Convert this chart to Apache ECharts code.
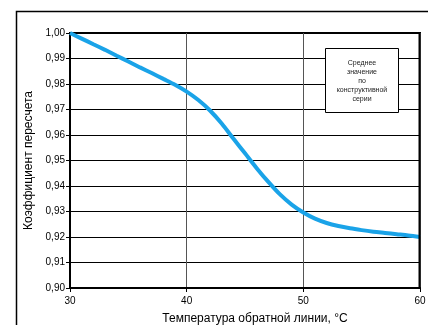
<!DOCTYPE html>
<html>
<head>
<meta charset="utf-8">
<script src="https://cdn.jsdelivr.net/npm/echarts@6/dist/echarts.min.js"></script>
<style>html,body{margin:0;padding:0;background:#fff;}#c{width:428px;height:325px;}</style>
</head>
<body>
<div id="c"></div>
<script>
const temps = [30, 31, 32, 33, 34, 35, 36, 37, 38, 39, 40, 41, 42, 43, 44, 45, 46, 47, 48, 49, 50, 51, 52, 53, 54, 55, 56, 57, 58, 59, 60];
const coef = [1.0000, 0.9978, 0.9956, 0.9934, 0.9911, 0.9888, 0.9865, 0.9843, 0.9820, 0.9797, 0.9770,
  0.9737, 0.9696, 0.9645, 0.9586, 0.9528, 0.9470, 0.9416, 0.9367, 0.9327, 0.9296,
  0.9272, 0.9255, 0.9243, 0.9234, 0.9227, 0.9221, 0.9216, 0.9211, 0.9206, 0.9200];
const xTicks = [30, 40, 50, 60];
const yName = 'Коэффициент пересчета';
const xName = 'Температура обратной линии, °С';
const noteLines = ['Среднее', 'значение', 'по', 'конструктивной', 'серии'];

const chart = echarts.init(document.getElementById('c'), null, {renderer: 'canvas'});
const font = 'Liberation Sans, Arial, sans-serif';
chart.setOption({
  animation: false,
  backgroundColor: '#fff',
  grid: {left: 70, right: 8, top: 33, bottom: 37, show: true, borderColor: '#000', borderWidth: 2,
    backgroundColor: 'transparent', containLabel: false, outerBoundsMode: 'none'},
  xAxis: {
    type: 'value', min: 30, max: 60, interval: 10,
    name: xName, nameLocation: 'middle', nameGap: 25,
    nameTextStyle: {fontFamily: font, fontSize: 12, color: '#000', padding: [0, 0, 0, 20]},
    axisLine: {show: true, lineStyle: {color: '#000', width: 2}},
    axisTick: {show: true, length: 4, lineStyle: {color: '#000'}},
    axisLabel: {fontFamily: font, fontSize: 10, color: '#000', margin: 8,
      formatter: v => xTicks.includes(v) ? String(v) : ''},
    splitLine: {show: true, lineStyle: {color: '#555', width: 1}}
  },
  yAxis: {
    type: 'value', min: 0.90, max: 1.00, interval: 0.01,
    name: yName, nameLocation: 'middle', nameGap: 33,
    nameTextStyle: {fontFamily: font, fontSize: 12, color: '#000'},
    axisLine: {show: true, lineStyle: {color: '#000', width: 2}},
    axisTick: {show: true, length: 4, lineStyle: {color: '#000'}},
    axisLabel: {fontFamily: font, fontSize: 10, color: '#000', margin: 5,
      formatter: v => v.toFixed(2).replace('.', ',')},
    splitLine: {show: true, lineStyle: {color: '#000', width: 1}}
  },
  series: [{
    type: 'line',
    data: temps.map((t, i) => [t, coef[i]]),
    smooth: 0.3,
    showSymbol: false,
    lineStyle: {color: '#1aa3e8', width: 4},
    z: 5
  }],
  graphic: [
    {type: 'rect', shape: {x: 16.5, y: 11.5, width: 600, height: 500}, style: {fill: 'none', stroke: '#000', lineWidth: 1.5}, z: 100, silent: true},
    {type: 'rect', shape: {x: 418.5, y: 33, width: 2, height: 255}, style: {fill: '#000'}, z: 100, silent: true},
    {type: 'rect', shape: {x: 325.5, y: 48.5, width: 73, height: 64}, style: {fill: '#fff', stroke: '#000', lineWidth: 1}, z: 100},
    {type: 'text', x: 362, y: 59, z: 101,
      style: {text: noteLines.join('\n'), fontFamily: font, fontSize: 7, lineHeight: 9, fill: '#222', align: 'center', verticalAlign: 'top'}}
  ]
});
</script>
</body>
</html>
